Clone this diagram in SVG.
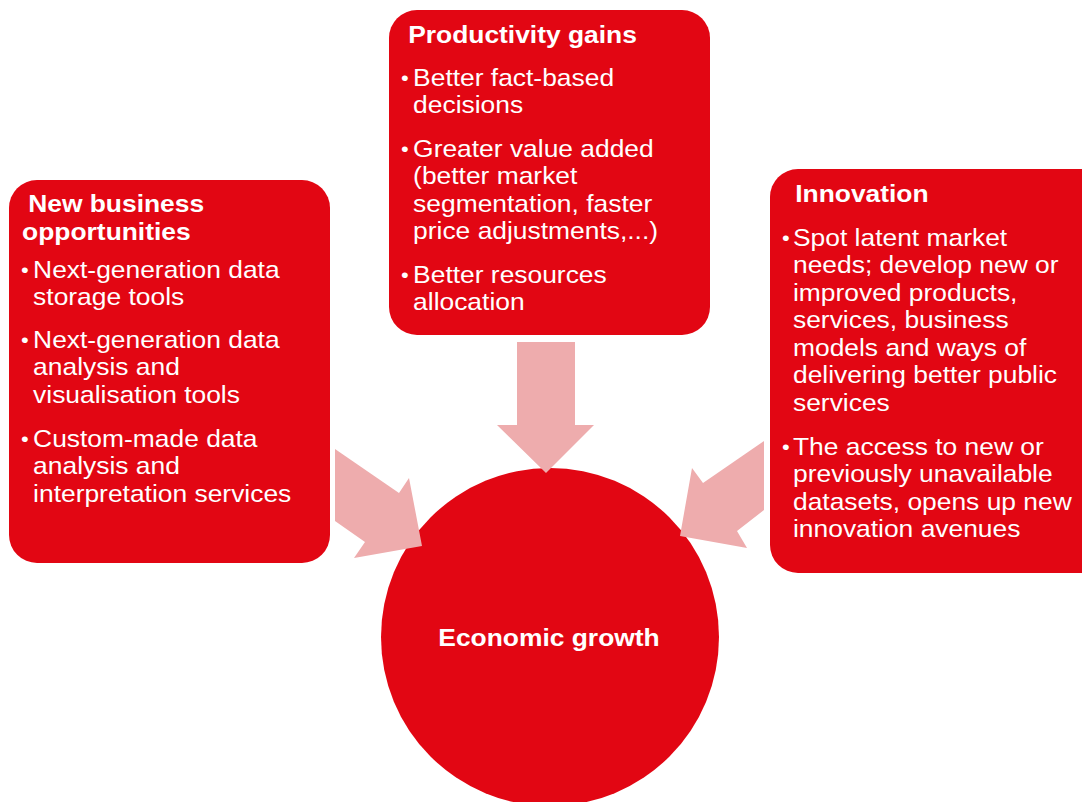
<svg xmlns="http://www.w3.org/2000/svg" width="1082" height="802" viewBox="0 0 1082 802">
<style>
.box{fill:#E20613}
.arrow{fill:#EEACAD}
text{font-family:"Liberation Sans",Arial,sans-serif;fill:#FFFFFF;font-size:24px}
.title{font-weight:bold}
.bul{font-size:20px}
</style>
<rect width="1082" height="802" fill="#FFFFFF"/>
<g id="node-economic-growth">
<circle class="box" cx="550" cy="637" r="169"/>
<g transform="translate(549,0) scale(1.1,1)"><text class="title" x="0" y="646" text-anchor="middle">Economic growth</text></g>
</g>
<g id="node-new-business">
<rect class="box" x="9" y="180" width="321" height="383" rx="28"/>
<g transform="translate(21,0) scale(1.1,1)">
<text class="title"><tspan x="6.5" y="212">New business</tspan><tspan x="1" y="240">opportunities</tspan></text>
<text class="bul" x="0" y="277">•</text>
<text><tspan x="11" y="278">Next-generation data</tspan><tspan x="11" y="305.5">storage tools</tspan></text>
<text class="bul" x="0" y="347">•</text>
<text><tspan x="11" y="348">Next-generation data</tspan><tspan x="11" y="375.5">analysis and</tspan><tspan x="11" y="403">visualisation tools</tspan></text>
<text class="bul" x="0" y="446">•</text>
<text><tspan x="11" y="447">Custom-made data</tspan><tspan x="11" y="474.5">analysis and</tspan><tspan x="11" y="502">interpretation services</tspan></text>
</g>
</g>
<g id="node-productivity">
<rect class="box" x="389" y="10" width="321" height="325" rx="28"/>
<g transform="translate(401,0) scale(1.1,1)">
<text class="title" x="6.5" y="43">Productivity gains</text>
<text class="bul" x="0" y="85">•</text>
<text><tspan x="11" y="86">Better fact-based</tspan><tspan x="11" y="113.5">decisions</tspan></text>
<text class="bul" x="0" y="156">•</text>
<text><tspan x="11" y="157">Greater value added</tspan><tspan x="11" y="184.5">(better market</tspan><tspan x="11" y="212">segmentation, faster</tspan><tspan x="11" y="239.5">price adjustments,...)</tspan></text>
<text class="bul" x="0" y="282">•</text>
<text><tspan x="11" y="283">Better resources</tspan><tspan x="11" y="310.5">allocation</tspan></text>
</g>
</g>
<g id="node-innovation">
<rect class="box" x="770" y="169" width="340" height="404" rx="28"/>
<g transform="translate(782,0) scale(1.1,1)">
<text class="title" x="12" y="202">Innovation</text>
<text class="bul" x="0" y="245">•</text>
<text><tspan x="10" y="246">Spot latent market</tspan><tspan x="10" y="273.5">needs; develop new or</tspan><tspan x="10" y="301">improved products,</tspan><tspan x="10" y="328.5">services, business</tspan><tspan x="10" y="356">models and ways of</tspan><tspan x="10" y="383.5">delivering better public</tspan><tspan x="10" y="411">services</tspan></text>
<text class="bul" x="0" y="454">•</text>
<text><tspan x="10" y="455">The access to new or</tspan><tspan x="10" y="482.5">previously unavailable</tspan><tspan x="10" y="510">datasets, opens up new</tspan><tspan x="10" y="537.5">innovation avenues</tspan></text>
</g>
</g>
<g id="connectors">
<polygon class="arrow" points="517,342 575,342 575,425 594,425 546,473 497,425 517,425"/>
<polygon class="arrow" points="335,449 399,493 409,478 422,546 354,558 365,542 335,521"/>
<polygon class="arrow" points="764,441 764,510 737,531 747,548 680,536 692,468 703,483"/>
</g>
</svg>
